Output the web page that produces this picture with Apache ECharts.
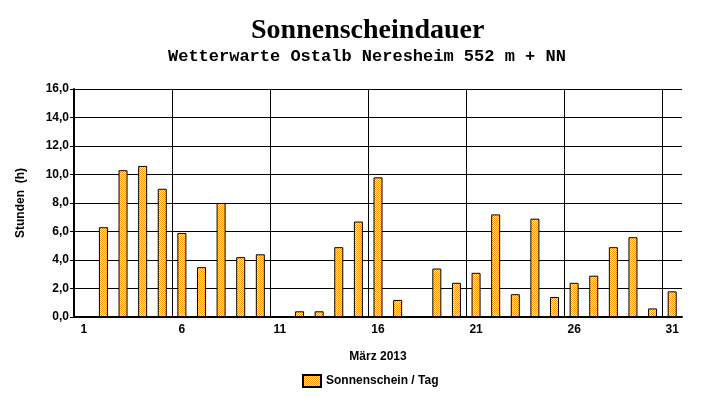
<!DOCTYPE html>
<html>
<head>
<meta charset="utf-8">
<script src="https://cdn.jsdelivr.net/npm/echarts@6/dist/echarts.min.js"></script>
<style>
html,body{margin:0;padding:0;background:#fff;}
#chart{width:727px;height:404px;}
</style>
</head>
<body>
<div id="chart"></div>
<script>
var days = ['1','2','3','4','5','6','7','8','9','10','11','12','13','14','15','16','17','18','19','20','21','22','23','24','25','26','27','28','29','30','31'];
var sunshine = [0, 6.3, 10.3, 10.6, 9.0, 5.9, 3.5, 8.0, 4.2, 4.4, 0, 0.4, 0.4, 4.9, 6.7, 9.8, 1.2, 0, 3.4, 2.4, 3.1, 7.2, 1.6, 6.9, 1.4, 2.4, 2.9, 4.9, 5.6, 0.6, 1.8];
var yTicks = { min: 0, max: 16, step: 2 };
var titleText = 'Sonnenscheindauer';
var subtitleText = 'Wetterwarte Ostalb Neresheim 552 m + NN';
var seriesName = 'Sonnenschein / Tag';
var xName = 'März 2013';
var yName = 'Stunden  (h)';

var pc = document.createElement('canvas');
pc.width = 2; pc.height = 2;
var ctx = pc.getContext('2d');
ctx.fillStyle = '#FFF6C4'; ctx.fillRect(0,0,2,2);
ctx.fillStyle = '#FF9A00'; ctx.fillRect(0,0,1,1); ctx.fillRect(1,1,1,1);
var pattern = { image: pc, repeat: 'repeat' };

var chart = echarts.init(document.getElementById('chart'), null, {renderer: 'canvas'});
var lbl = { fontFamily: 'Liberation Sans', fontWeight: 'bold', fontSize: 12, color: '#000' };
chart.setOption({
  backgroundColor: '#fff',
  animation: false,
  title: [
    { text: titleText, left: 246, top: 12,
      textStyle: { fontFamily: 'Liberation Serif', fontWeight: 'bold', fontSize: 28, color: '#000' } },
    { text: subtitleText, left: 163, top: 43,
      textStyle: { fontFamily: 'Liberation Mono', fontWeight: 'bold', fontSize: 17, color: '#000' } }
  ],
  legend: {
    left: 297, top: 369,
    itemWidth: 18, itemHeight: 12, itemGap: 10,
    data: [{ name: seriesName, icon: 'rect' }],
    textStyle: lbl
  },
  grid: { left: 74, right: 45, top: 89, bottom: 87, containLabel: false },
  xAxis: {
    type: 'category', data: days, boundaryGap: true,
    name: xName, nameLocation: 'middle', nameGap: 34, nameTextStyle: lbl,
    axisLine: { lineStyle: { color: '#000', width: 2 } },
    axisTick: { interval: 0, length: 4, lineStyle: { color: '#000', width: 1 } },
    axisLabel: Object.assign({ interval: 4, margin: 7 }, lbl),
    splitLine: { show: true, interval: 4, showMaxLine: false, lineStyle: { color: '#000', width: 1 } }
  },
  yAxis: {
    type: 'value', min: yTicks.min, max: yTicks.max, interval: yTicks.step,
    name: yName, nameLocation: 'middle', nameGap: 47, nameTextStyle: lbl,
    axisLine: { show: true, lineStyle: { color: '#000', width: 2 } },
    axisTick: { show: true, length: 4, lineStyle: { color: '#000' } },
    axisLabel: Object.assign({ margin: 5, formatter: function (v) { return v.toFixed(1).replace('.', ','); } }, lbl),
    splitLine: { show: true, lineStyle: { color: '#000', width: 1 } }
  },
  series: [{
    name: seriesName, type: 'bar', data: sunshine, barWidth: 9,
    itemStyle: { color: pattern, borderColor: '#000', borderWidth: 1 }
  }]
});
</script>
</body>
</html>
